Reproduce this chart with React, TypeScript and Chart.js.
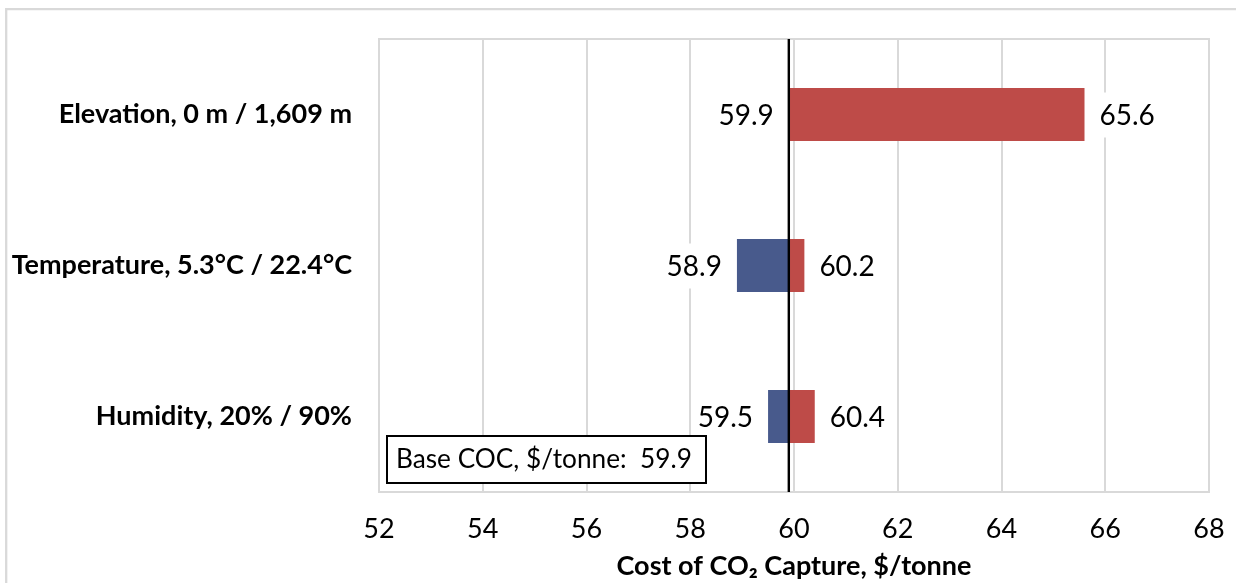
import React, { useEffect, useRef } from 'react';
import { Chart, registerables } from 'chart.js';

Chart.register(...registerables);

const categories = ['Elevation, 0 m / 1,609 m', 'Temperature, 5.3°C / 22.4°C', 'Humidity, 20% / 90%'];
const lowValues = [59.9, 58.9, 59.5];
const highValues = [65.6, 60.2, 60.4];
const baseValue = 59.9;
const xMin = 52;
const xMax = 68;
const xStep = 2;
const xTitle = 'Cost of CO\u2082 Capture, $/tonne';
const baseLabel = 'Base COC, $/tonne:  59.9';

const FONT = 'Lato';
const RED = '#BE4B48';
const BLUE = '#485A8C';
const GRID = '#d9d9d9';

export default function App() {
  const ref = useRef<HTMLCanvasElement>(null);

  useEffect(() => {
    document.body.style.margin = '0';
    const canvas = ref.current;
    if (!canvas) return;

    const tornadoPlugin = {
      id: 'tornado',
      beforeDraw(chart: any) {
        const c = chart.ctx;
        c.save();
        c.strokeStyle = GRID;
        c.lineWidth = 2.3;
        c.beginPath();
        c.moveTo(6.2, chart.height);
        c.lineTo(6.2, 9.2);
        c.lineTo(chart.width, 9.2);
        c.stroke();
        c.restore();
      },
      beforeDatasetsDraw(chart: any) {
        const c = chart.ctx;
        const a = chart.chartArea;
        c.save();
        c.strokeStyle = GRID;
        c.lineWidth = 2;
        c.strokeRect(a.left, a.top, a.right - a.left, a.bottom - a.top);
        c.restore();
      },
      afterDatasetsDraw(chart: any) {
        const c = chart.ctx;
        const a = chart.chartArea;
        const xs = chart.scales.x;
        c.save();
        c.font = `28px ${FONT}`;
        c.textBaseline = 'middle';
        const gap = 15;
        const drawLabel = (text: string, x: number, y: number, align: 'left' | 'right') => {
          const w = c.measureText(text).width;
          const left = align === 'left' ? x : x - w;
          c.fillStyle = '#ffffff';
          c.fillRect(left - 6, y - 22, w + 12, 45);
          c.fillStyle = '#000000';
          c.textAlign = align;
          c.fillText(text, x, y + 1);
        };
        const metaLow = chart.getDatasetMeta(0);
        const metaHigh = chart.getDatasetMeta(1);
        lowValues.forEach((v, i) => {
          const y = metaLow.data[i].y;
          drawLabel(v.toFixed(1), xs.getPixelForValue(v) - gap, y, 'right');
        });
        highValues.forEach((v, i) => {
          const y = metaHigh.data[i].y;
          drawLabel(v.toFixed(1), xs.getPixelForValue(v) + gap, y, 'left');
        });
        // base line
        const bx = xs.getPixelForValue(baseValue);
        c.strokeStyle = '#000000';
        c.lineWidth = 2.4;
        c.beginPath();
        c.moveTo(bx, a.top);
        c.lineTo(bx, a.bottom);
        c.stroke();
        // base box
        c.fillStyle = '#ffffff';
        c.fillRect(387, 436, 319, 47);
        c.strokeStyle = '#000000';
        c.lineWidth = 2;
        c.strokeRect(387, 436, 319, 47);
        c.fillStyle = '#000000';
        c.textAlign = 'left';
        c.font = `100px ${FONT}`;
        const w100 = c.measureText(baseLabel).width;
        const size = Math.min(28, (100 * 296) / w100);
        c.font = `${size}px ${FONT}`;
        c.fillText(baseLabel, 396, 460);
        c.restore();
      },
    };

    const chart = new Chart(canvas, {
      type: 'bar',
      data: {
        labels: categories,
        datasets: [
          {
            label: 'Low',
            data: lowValues.map((v) => [v, baseValue]) as any,
            backgroundColor: BLUE,
            grouped: false,
            categoryPercentage: 1,
            barPercentage: 0.35,
          } as any,
          {
            label: 'High',
            data: highValues.map((v) => [baseValue, v]) as any,
            backgroundColor: RED,
            grouped: false,
            categoryPercentage: 1,
            barPercentage: 0.35,
          } as any,
        ],
      },
      options: {
        animation: false,
        responsive: false,
        indexAxis: 'y',
        layout: { padding: { top: 39, right: 27, left: 0, bottom: 0 } },
        plugins: {
          legend: { display: false },
          tooltip: { enabled: false },
        },
        scales: {
          x: {
            type: 'linear',
            min: xMin,
            max: xMax,
            ticks: { stepSize: xStep, color: '#000000', font: { family: FONT, size: 27 }, padding: 21 },
            grid: { color: GRID, lineWidth: 2, drawTicks: false },
            border: { display: false },
            title: {
              display: true,
              text: xTitle,
              color: '#000000',
              font: { family: FONT, size: 27, weight: 'bold' },
              padding: { top: 0, bottom: 1 },
            },
            afterFit(scale: any) {
              scale.height = 91;
              scale.paddingLeft = 0;
              scale.paddingRight = 0;
            },
          },
          y: {
            ticks: { color: '#000000', font: { family: FONT, size: 27, weight: 'bold' }, padding: 27 },
            grid: { display: false, drawTicks: false },
            border: { display: false },
            afterFit(scale: any) {
              scale.width = 379;
              scale.paddingTop = 0;
              scale.paddingBottom = 0;
            },
          },
        },
      } as any,
      plugins: [tornadoPlugin],
    });

    return () => chart.destroy();
  }, []);

  return (
    <div style={{ width: 1236, height: 583, background: '#ffffff' }}>
      <canvas ref={ref} width={1236} height={583} style={{ display: 'block' }} />
    </div>
  );
}
